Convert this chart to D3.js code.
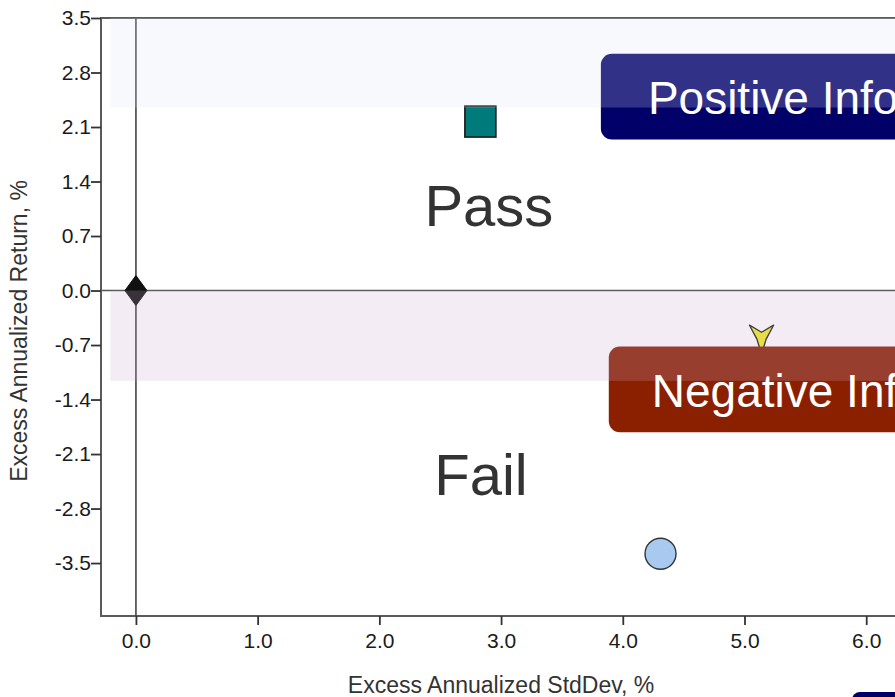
<!DOCTYPE html>
<html>
<head>
<meta charset="utf-8">
<script src="https://cdn.jsdelivr.net/npm/d3@7"></script>
<style>
  html, body { margin: 0; padding: 0; background: #fff; overflow: hidden; }
  svg { display: block; font-family: "Liberation Sans", Arial, sans-serif; }
</style>
</head>
<body>
<svg id="chart" width="895" height="697"></svg>
<script>
// Axis ticks
const xTicks = [0, 1, 2, 3, 4, 5, 6];
const yTicks = [3.5, 2.8, 2.1, 1.4, 0.7, 0.0, -0.7, -1.4, -2.1, -2.8, -3.5];

// Portfolio points: excess std-dev (x) and excess return (y)
const pointNames  = ["Benchmark", "Fund A", "Fund B", "Fund C"];
const pointX      = [0.0, 2.83, 5.14, 4.31];
const pointY      = [0.0, 2.17, -0.60, -3.38];
const pointShapes = ["diamond", "square", "tri", "circle"];

// Shaded information-ratio bands [x0, y0, y1]
const bandNames = ["positive", "negative"];
const bandX0 = [-0.21, -0.21];
const bandY0 = [2.35, -1.16];
const bandY1 = [3.5, 0.0];

// Region captions
const regionText = ["Pass", "Fail"];
const regionX = [2.90, 2.835];
const regionY = [0.83, -2.62];

// Callout boxes
const calloutText = ["Positive Information Ratio", "Negative Information Ratio"];
const calloutX = [3.82, 3.885];
const calloutTop = [3.04, -0.72];
const calloutBottom = [1.94, -1.82];
const calloutPad = [47, 43];

const svg = d3.select("#chart");

const x = d3.scaleLinear().domain([-0.287, 7.51]).range([101, 1050]);
const y = d3.scaleLinear().domain([-4.18, 3.5]).range([616, 18]);

// Plot frame
svg.append("rect")
  .attr("x", x.range()[0]).attr("y", y.range()[1])
  .attr("width", x.range()[1] - x.range()[0])
  .attr("height", y.range()[0] - y.range()[1])
  .attr("fill", "#fff").attr("stroke", "#5a5a5a").attr("stroke-width", 2);

// Zero reference lines
svg.append("line")
  .attr("x1", x(0)).attr("x2", x(0))
  .attr("y1", y.range()[1]).attr("y2", y.range()[0])
  .attr("stroke", "#444").attr("stroke-width", 1.6);
svg.append("line")
  .attr("x1", x.range()[0]).attr("x2", x.range()[1])
  .attr("y1", y(0)).attr("y2", y(0))
  .attr("stroke", "#555").attr("stroke-width", 1.6);

// Axes
const fmt = d => d.toFixed(1);
const yAxis = svg.append("g")
  .attr("transform", `translate(${x.range()[0]},0)`)
  .call(d3.axisLeft(y).tickValues(yTicks).tickFormat(fmt).tickSize(10).tickPadding(0));
const xAxis = svg.append("g")
  .attr("transform", `translate(0,${y.range()[0]})`)
  .call(d3.axisBottom(x).tickValues(xTicks).tickFormat(fmt).tickSize(9).tickPadding(8));
[xAxis, yAxis].forEach(g => {
  g.select(".domain").remove();
  g.selectAll(".tick line").attr("stroke", "#333").attr("stroke-width", 1.8);
  g.selectAll(".tick text")
    .attr("fill", "#1a1a1a")
    .style("font-size", "21px")
    .style("font-family", "'Liberation Sans', Arial, sans-serif");
});

// Axis titles
svg.append("text")
  .attr("x", (x(0) + x(6.0)) / 2)
  .attr("y", 693)
  .attr("text-anchor", "middle")
  .attr("fill", "#333")
  .style("font-size", "23px")
  .text("Excess Annualized StdDev, %");
svg.append("text")
  .attr("transform", `translate(27,${(y(3.5) + y(-4.18)) / 2 + 14}) rotate(-90)`)
  .attr("text-anchor", "middle")
  .attr("fill", "#333")
  .style("font-size", "23px")
  .text("Excess Annualized Return, %");

// Three-armed marker: two arms up, one stem down
const triPath = (() => {
  const outer = 17, inner = 5;
  const tips = [-135, -45, 90];
  const mids = [-90, 22.5, 157.5];
  const pts = [];
  tips.forEach((a, i) => {
    const r = a * Math.PI / 180, m = mids[i] * Math.PI / 180;
    pts.push([outer * Math.cos(r), outer * Math.sin(r)]);
    pts.push([inner * Math.cos(m), inner * Math.sin(m)]);
  });
  return "M" + pts.map(p => p.join(",")).join("L") + "Z";
})();

const marks = svg.append("g");
pointNames.forEach((name, i) => {
  const cx = x(pointX[i]), cy = y(pointY[i]);
  const shape = pointShapes[i];
  if (shape === "diamond") {
    marks.append("path")
      .attr("d", "M0,-15L11,0L0,15L-11,0Z")
      .attr("transform", `translate(${cx},${cy})`)
      .attr("fill", "#111").attr("stroke", "#111");
  } else if (shape === "square") {
    marks.append("rect")
      .attr("x", cx - 15.5).attr("y", cy - 15.5)
      .attr("width", 31).attr("height", 31)
      .attr("fill", "#007b7b").attr("stroke", "#1a1a1a").attr("stroke-width", 1.6);
  } else if (shape === "circle") {
    marks.append("circle")
      .attr("cx", cx).attr("cy", cy).attr("r", 15.5)
      .attr("fill", "#a8caf0").attr("stroke", "#333").attr("stroke-width", 1.4);
  } else {
    marks.append("path")
      .attr("d", triPath)
      .attr("transform", `translate(${cx},${cy})`)
      .attr("fill", "#eeee22").attr("stroke", "#222").attr("stroke-width", 1.4)
      .attr("stroke-linejoin", "round");
  }
});

// Region captions
regionText.forEach((t, i) => {
  svg.append("text")
    .attr("x", x(regionX[i])).attr("y", y(regionY[i]))
    .attr("text-anchor", "middle")
    .attr("fill", "#333")
    .style("font-size", "58px")
    .text(t);
});

// Callout boxes
const calloutFill = ["#000068", "#8b2000"];
calloutText.forEach((t, i) => {
  svg.append("rect")
    .attr("x", x(calloutX[i])).attr("y", y(calloutTop[i]))
    .attr("width", 420).attr("height", y(calloutBottom[i]) - y(calloutTop[i]))
    .attr("rx", 11).attr("ry", 11)
    .attr("fill", calloutFill[i]);
});

// Translucent band overlays
const bandFill = ["rgba(222,226,245,0.22)", "rgba(200,168,209,0.22)"];
bandNames.forEach((n, i) => {
  svg.append("rect")
    .attr("x", x(bandX0[i])).attr("y", y(bandY1[i]))
    .attr("width", x.range()[1] - x(bandX0[i]))
    .attr("height", y(bandY0[i]) - y(bandY1[i]))
    .attr("fill", bandFill[i]);
});

// Callout captions
calloutText.forEach((t, i) => {
  svg.append("text")
    .attr("x", x(calloutX[i]) + calloutPad[i])
    .attr("y", y(calloutTop[i]) + 60)
    .attr("fill", "#fff")
    .style("font-size", "46px")
    .text(t);
});

// Legend box edge peeking in at the bottom
svg.append("rect")
  .attr("x", 852).attr("y", 692)
  .attr("width", 200).attr("height", 40)
  .attr("rx", 8).attr("ry", 8)
  .attr("fill", "#000068");
</script>
</body>
</html>
